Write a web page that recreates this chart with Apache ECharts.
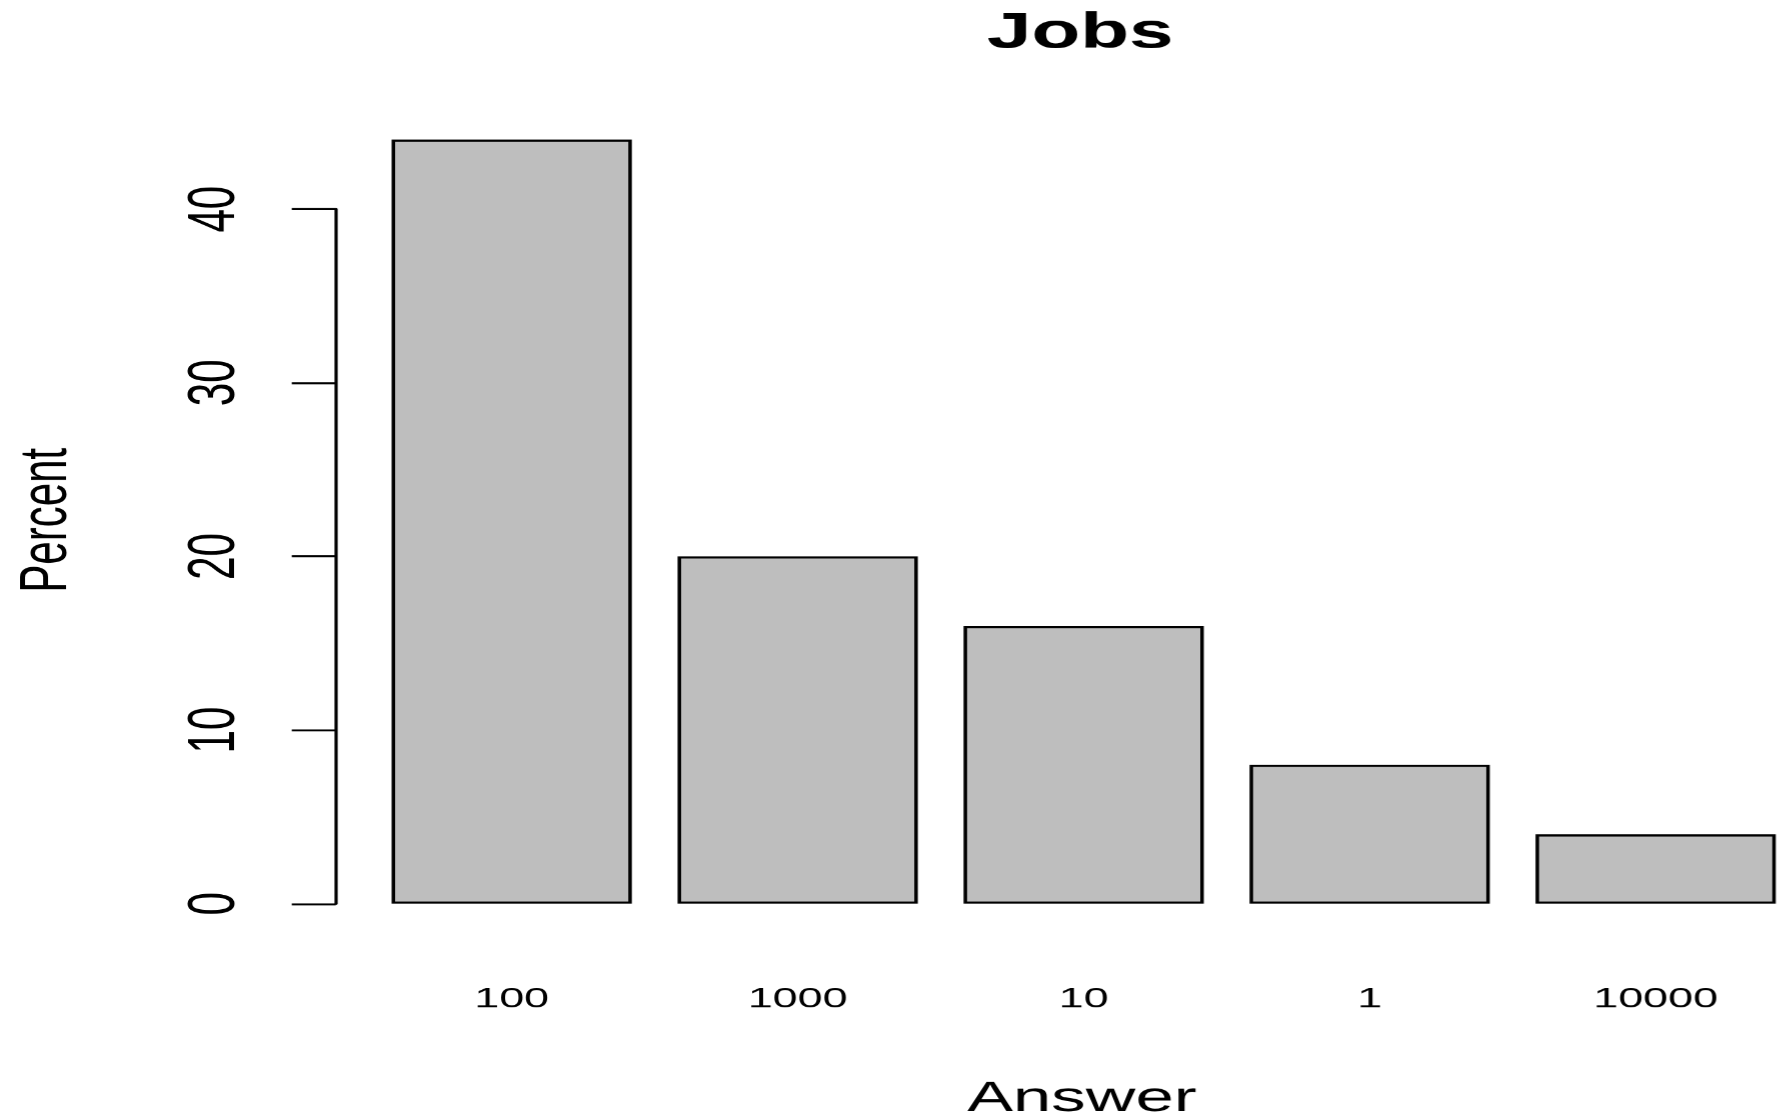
<!DOCTYPE html>
<html>
<head>
<meta charset="utf-8">
<script src="https://cdn.jsdelivr.net/npm/echarts@6/dist/echarts.min.js"></script>
<style>
html,body{margin:0;padding:0;background:#fff;overflow:hidden;}
#wrap{width:1783px;height:1118px;overflow:hidden;position:relative;}
#c{width:1114.4px;height:1118px;transform:scaleX(1.6);transform-origin:0 0;}
</style>
</head>
<body>
<div id="wrap"><div id="c"></div></div>
<script>
// ---- data ----
var categories = ['100', '1000', '10', '1', '10000'];
var percents = [44, 20, 16, 8, 4];
var yTicks = { min: 0, max: 40, interval: 10 };
var titleText = 'Jobs';
var xName = 'Answer';
var yName = 'Percent';

var FONT = '"Liberation Sans", Arial, Helvetica, sans-serif';
var chart = echarts.init(document.getElementById('c'), null, { devicePixelRatio: 1.6 });
chart.setOption({
  backgroundColor: '#ffffff',
  animation: false,
  grid: { left: 230.4, width: 893.5, top: 209, bottom: 214.7, containLabel: false, outerBoundsMode: 'none' },
  xAxis: {
    type: 'category',
    data: categories,
    axisLine: { show: false },
    axisTick: { show: false },
    splitLine: { show: false },
    axisLabel: { fontSize: 28, color: '#000', fontFamily: FONT, margin: 82 }
  },
  yAxis: {
    type: 'value',
    min: yTicks.min, max: yTicks.max, interval: yTicks.interval,
    offset: 20.6,
    axisLine: { show: true, lineStyle: { color: '#000', width: 2 } },
    axisTick: { show: true, length: 27.5, lineStyle: { color: '#000', width: 2 } },
    splitLine: { show: false },
    axisLabel: { rotate: 90, fontSize: 42, color: '#000', fontFamily: FONT, margin: 54 }
  },
  graphic: [
    { type: 'text', x: 675, y: 34, style: { text: titleText, fontSize: 50, fontWeight: 'bold', fontFamily: FONT, fill: '#000', align: 'center', verticalAlign: 'middle' } },
    { type: 'text', x: 676, y: 1098.5, style: { text: xName, fontSize: 43, fontFamily: FONT, fill: '#000', align: 'center', verticalAlign: 'middle' } },
    { type: 'text', x: 29.5, y: 520, rotation: Math.PI / 2, style: { text: yName, fontSize: 42, fontFamily: FONT, fill: '#000', align: 'center', verticalAlign: 'middle' } }
  ],
  series: [{
    type: 'bar',
    data: percents,
    barWidth: '84%',
    clip: false,
    itemStyle: { color: '#bebebe', borderColor: '#000', borderWidth: 2.2 },
    emphasis: { disabled: true }
  }]
});
</script>
</body>
</html>
